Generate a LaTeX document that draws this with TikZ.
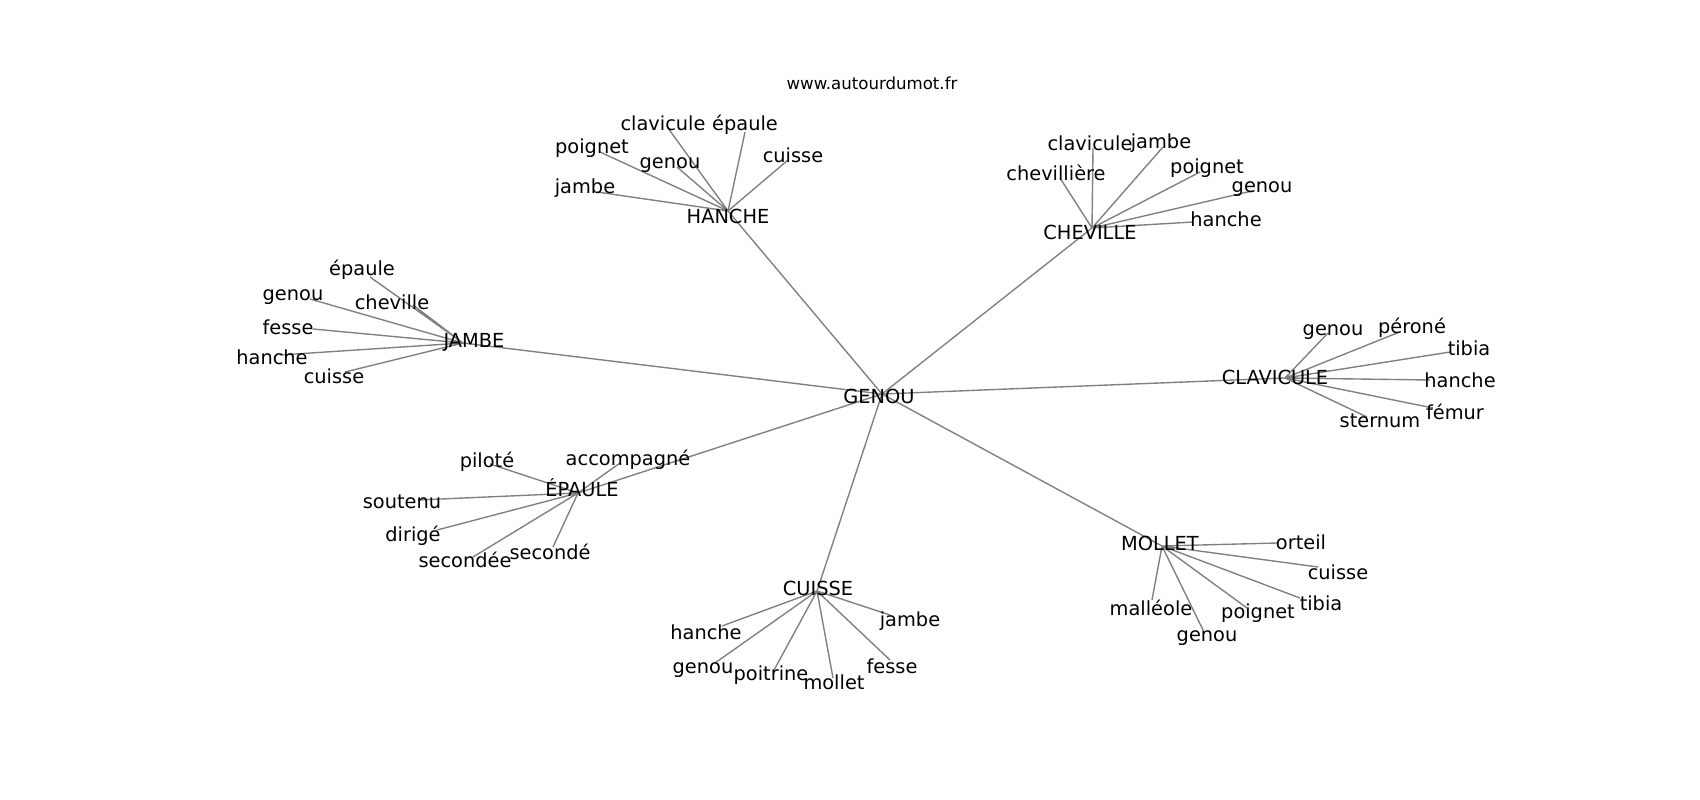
\documentclass[tikz,border=0pt]{standalone}
\usepackage{fontspec}
\setmainfont{DejaVu Sans}
\begin{document}
\begin{tikzpicture}
    [x=0.254mm,y=-0.254mm,
     lbl/.style={inner sep=0pt,font=\fontsize{14}{16}\selectfont},
     low/.style={lbl,yshift=-0.8mm},
     ttl/.style={inner sep=0pt,font=\fontsize{12}{15}\selectfont},
     edge/.style={draw=black!50,line width=1pt}]
    \useasboundingbox (0,0) rectangle (1700,800);
    \node[ttl] (title) at (872,83) {www.autourdumot.fr};

    % hubs
    \coordinate (genou) at (882,394);
    \coordinate (hanche) at (728,211);
    \coordinate (cheville) at (1092,228);
    \coordinate (jambe) at (463,343);
    \coordinate (clavicule) at (1285,378);
    \coordinate (epaule) at (578,493);
    \coordinate (cuisse) at (817,591);
    \coordinate (mollet) at (1162,546);

    % leaves of HANCHE
    \coordinate (ha1) at (668,128);
    \coordinate (ha2) at (745,132);
    \coordinate (ha3) at (600,152);
    \coordinate (ha4) at (677,167);
    \coordinate (ha5) at (788,160);
    \coordinate (ha6) at (597,192);
    % leaves of CHEVILLE
    \coordinate (ch1) at (1093,148);
    \coordinate (ch2) at (1163,147);
    \coordinate (ch3) at (1060,178);
    \coordinate (ch4) at (1200,172);
    \coordinate (ch5) at (1252,191);
    \coordinate (ch6) at (1193,222);
    % leaves of JAMBE
    \coordinate (ja1) at (370,277);
    \coordinate (ja2) at (310,299);
    \coordinate (ja3) at (413,305);
    \coordinate (ja4) at (313,329);
    \coordinate (ja5) at (280,355);
    \coordinate (ja6) at (345,372);
    % leaves of CLAVICULE
    \coordinate (cl1) at (1328,333);
    \coordinate (cl2) at (1397,333);
    \coordinate (cl3) at (1450,352);
    \coordinate (cl4) at (1430,380);
    \coordinate (cl5) at (1433,408);
    \coordinate (cl6) at (1367,417);
    % leaves of EPAULE
    \coordinate (ep1) at (490,464);
    \coordinate (ep2) at (620,463);
    \coordinate (ep3) at (418,500);
    \coordinate (ep4) at (437,530);
    \coordinate (ep5) at (473,557);
    \coordinate (ep6) at (553,547);
    % leaves of CUISSE
    \coordinate (cu1) at (722,626);
    \coordinate (cu2) at (890,615);
    \coordinate (cu3) at (715,663);
    \coordinate (cu4) at (773,672);
    \coordinate (cu5) at (833,678);
    \coordinate (cu6) at (890,660);
    % leaves of MOLLET
    \coordinate (mo1) at (1277,543);
    \coordinate (mo2) at (1318,567);
    \coordinate (mo3) at (1300,598);
    \coordinate (mo4) at (1247,608);
    \coordinate (mo5) at (1203,630);
    \coordinate (mo6) at (1152,600);

    % edges
    \draw[edge] (genou) -- (hanche);
    \draw[edge] (genou) -- (cheville);
    \draw[edge] (genou) -- (jambe);
    \draw[edge] (genou) -- (clavicule);
    \draw[edge] (genou) -- (epaule);
    \draw[edge] (genou) -- (cuisse);
    \draw[edge] (genou) -- (mollet);
    \draw[edge] (hanche) -- (ha1) (hanche) -- (ha2) (hanche) -- (ha3)
      (hanche) -- (ha4) (hanche) -- (ha5) (hanche) -- (ha6);
    \draw[edge] (cheville) -- (ch1) (cheville) -- (ch2) (cheville) -- (ch3)
      (cheville) -- (ch4) (cheville) -- (ch5) (cheville) -- (ch6);
    \draw[edge] (jambe) -- (ja1) (jambe) -- (ja2) (jambe) -- (ja3)
      (jambe) -- (ja4) (jambe) -- (ja5) (jambe) -- (ja6);
    \draw[edge] (clavicule) -- (cl1) (clavicule) -- (cl2) (clavicule) -- (cl3)
      (clavicule) -- (cl4) (clavicule) -- (cl5) (clavicule) -- (cl6);
    \draw[edge] (epaule) -- (ep1) (epaule) -- (ep2) (epaule) -- (ep3)
      (epaule) -- (ep4) (epaule) -- (ep5) (epaule) -- (ep6);
    \draw[edge] (cuisse) -- (cu1) (cuisse) -- (cu2) (cuisse) -- (cu3)
      (cuisse) -- (cu4) (cuisse) -- (cu5) (cuisse) -- (cu6);
    \draw[edge] (mollet) -- (mo1) (mollet) -- (mo2) (mollet) -- (mo3)
      (mollet) -- (mo4) (mollet) -- (mo5) (mollet) -- (mo6);

    % labels
    \node[lbl] (genou-t) at (879,396) {GENOU};
    \node[lbl] (hanche-t) at (728,216) {HANCHE};
    \node[lbl] (cheville-t) at (1090,232) {CHEVILLE};
    \node[lbl] (jambe-t) at (474,342) {JAMBE};
    \node[lbl] (clavicule-t) at (1275,377) {CLAVICULE};
    \node[lbl] (epaule-t) at (582,488) {ÉPAULE};
    \node[lbl] (cuisse-t) at (818,588) {CUISSE};
    \node[lbl] (mollet-t) at (1160,543) {MOLLET};

    \node[lbl] (ha1t) at (663,123) {clavicule};
    \node[lbl] (ha2t) at (745,125) {épaule};
    \node[lbl] (ha3t) at (592,148) {poignet};
    \node[low] (ha4t) at (670,162) {genou};
    \node[lbl] (ha5t) at (793,155) {cuisse};
    \node[lbl] (ha6t) at (585,188) {jambe};

    \node[lbl] (ch1t) at (1090,143) {clavicule};
    \node[lbl] (ch2t) at (1161,143) {jambe};
    \node[lbl] (ch3t) at (1056,173) {chevillière};
    \node[lbl] (ch4t) at (1207,168) {poignet};
    \node[low] (ch5t) at (1262,186) {genou};
    \node[lbl] (ch6t) at (1226,219) {hanche};

    \node[lbl] (ja1t) at (362,270) {épaule};
    \node[low] (ja2t) at (293,294) {genou};
    \node[lbl] (ja3t) at (392,302) {cheville};
    \node[lbl] (ja4t) at (288,327) {fesse};
    \node[lbl] (ja5t) at (272,357) {hanche};
    \node[lbl] (ja6t) at (334,376) {cuisse};

    \node[low] (cl1t) at (1333,329) {genou};
    \node[lbl] (cl2t) at (1412,328) {péroné};
    \node[lbl] (cl3t) at (1469,348) {tibia};
    \node[lbl] (cl4t) at (1460,380) {hanche};
    \node[lbl] (cl5t) at (1455,412) {fémur};
    \node[lbl] (cl6t) at (1380,421) {sternum};

    \node[lbl] (ep1t) at (487,462) {piloté};
    \node[lbl] (ep2t) at (628,460) {accompagné};
    \node[lbl] (ep3t) at (402,502) {soutenu};
    \node[lbl] (ep4t) at (413,536) {dirigé};
    \node[lbl] (ep5t) at (465,560) {secondée};
    \node[lbl] (ep6t) at (550,552) {secondé};

    \node[lbl] (cu1t) at (706,632) {hanche};
    \node[lbl] (cu2t) at (910,621) {jambe};
    \node[low] (cu3t) at (703,667) {genou};
    \node[lbl] (cu4t) at (771,675) {poitrine};
    \node[lbl] (cu5t) at (834,682) {mollet};
    \node[lbl] (cu6t) at (892,666) {fesse};

    \node[lbl] (mo1t) at (1301,542) {orteil};
    \node[lbl] (mo2t) at (1338,572) {cuisse};
    \node[lbl] (mo3t) at (1321,603) {tibia};
    \node[lbl] (mo4t) at (1258,613) {poignet};
    \node[low] (mo5t) at (1207,635) {genou};
    \node[lbl] (mo6t) at (1151,608) {malléole};
\end{tikzpicture}
\end{document}
